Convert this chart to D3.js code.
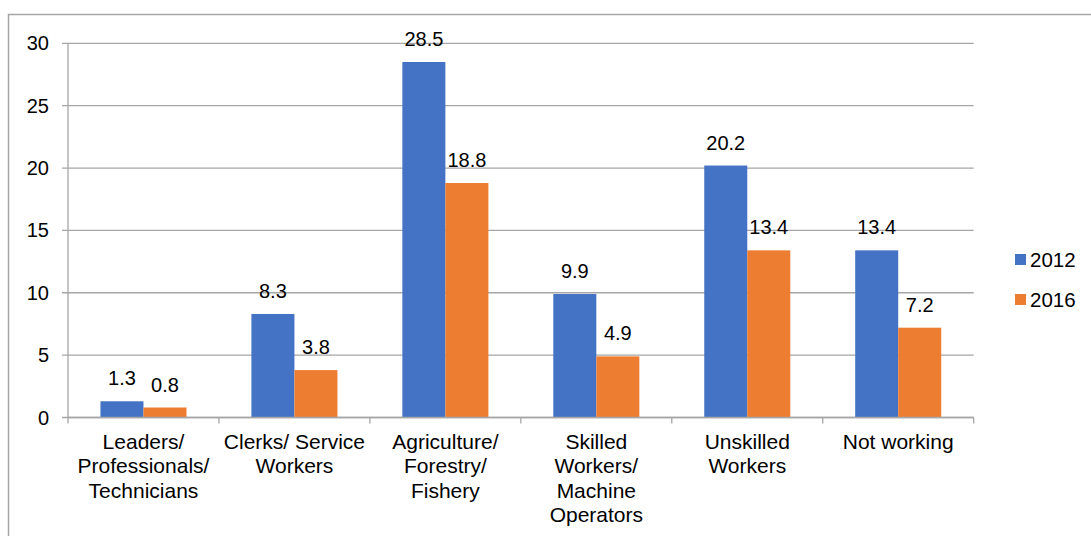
<!DOCTYPE html>
<html><head><meta charset="utf-8">
<script src="https://cdn.jsdelivr.net/npm/d3@7"></script>
<style>body{margin:0;background:#fff;}svg{display:block;font-family:"Liberation Sans",Arial,sans-serif;}</style>
</head><body><svg id="c" width="1091" height="536"></svg>
<script>
const categories = [["Leaders/","Professionals/","Technicians"],["Clerks/ Service","Workers"],["Agriculture/","Forestry/","Fishery"],["Skilled","Workers/","Machine","Operators"],["Unskilled","Workers"],["Not working"]];
const series = ["2012","2016"];
const values2012 = [1.3, 8.3, 28.5, 9.9, 20.2, 13.4];
const values2016 = [0.8, 3.8, 18.8, 4.9, 13.4, 7.2];
const yTicks = [0,5,10,15,20,25,30];
const colors = ["#4472C4","#ED7D31"];

(function(){
const svg = d3.select("#c");
const pLeft = 68, pRight = 973.7, pTop = 43.3, pBottom = 417.5;
svg.append("rect").attr("x",8.5).attr("y",14.5).attr("width",1200).attr("height",700)
  .attr("fill","none").attr("stroke","#a6a6a6").attr("stroke-width",1.5);

const idx = d3.range(categories.length);
const x = d3.scaleBand().domain(idx).range([pLeft,pRight]).paddingInner(0.43).paddingOuter(0.215);
const xs = d3.scaleBand().domain(series).range([0,x.bandwidth()]);
const y = d3.scaleLinear().domain([0,30]).range([pBottom,pTop]);

svg.append("g").selectAll("line").data(yTicks).join("line")
  .attr("x1",pLeft-6).attr("x2",pRight).attr("y1",d=>y(d)).attr("y2",d=>y(d))
  .attr("stroke","#a6a6a6").attr("stroke-width",1.3);
svg.append("line").attr("x1",pLeft).attr("x2",pLeft).attr("y1",pTop).attr("y2",pBottom)
  .attr("stroke","#a6a6a6").attr("stroke-width",1.3);
svg.append("g").selectAll("text").data(yTicks).join("text")
  .attr("x",49).attr("y",d=>y(d)).attr("dy","0.35em").attr("text-anchor","end")
  .attr("font-size",20).attr("fill","#000").text(d=>d);

const data = [values2012, values2016];
series.forEach((s,si)=>{
  const g = svg.append("g");
  g.selectAll("rect").data(data[si]).join("rect")
    .attr("x",(d,i)=>x(i)+xs(s)).attr("width",xs.bandwidth())
    .attr("y",d=>y(d)).attr("height",d=>y(0)-y(d)).attr("fill",colors[si]);
  g.selectAll("text").data(data[si]).join("text")
    .attr("x",(d,i)=>x(i)+xs(s)+xs.bandwidth()/2).attr("y",d=>y(d)-16)
    .attr("text-anchor","middle").attr("font-size",20).attr("fill","#000")
    .text(d=>d.toFixed(1));
});

svg.append("line").attr("x1",pLeft).attr("x2",pRight).attr("y1",pBottom).attr("y2",pBottom)
  .attr("stroke","#a6a6a6").attr("stroke-width",1.3);
const step = (pRight-pLeft)/categories.length;
svg.append("g").selectAll("line").data(d3.range(categories.length+1)).join("line")
  .attr("x1",d=>pLeft+d*step).attr("x2",d=>pLeft+d*step).attr("y1",pBottom).attr("y2",pBottom+6)
  .attr("stroke","#a6a6a6").attr("stroke-width",1.3);
const cl = svg.append("g").selectAll("text").data(categories).join("text")
  .attr("text-anchor","middle").attr("font-size",21).attr("fill","#000");
cl.each(function(lines,i){
  d3.select(this).selectAll("tspan").data(lines).join("tspan")
    .attr("x",x(i)+x.bandwidth()/2).attr("y",(d,j)=>449+j*24.3).text(d=>d);
});

const lg = svg.append("g").selectAll("g").data(series).join("g")
  .attr("transform",(d,i)=>`translate(1015,${254+i*40})`);
lg.append("rect").attr("width",11).attr("height",11).attr("fill",(d,i)=>colors[i]);
lg.append("text").attr("x",15).attr("y",13).attr("font-size",20.5).attr("fill","#000").text(d=>d);
})();
</script></body></html>
